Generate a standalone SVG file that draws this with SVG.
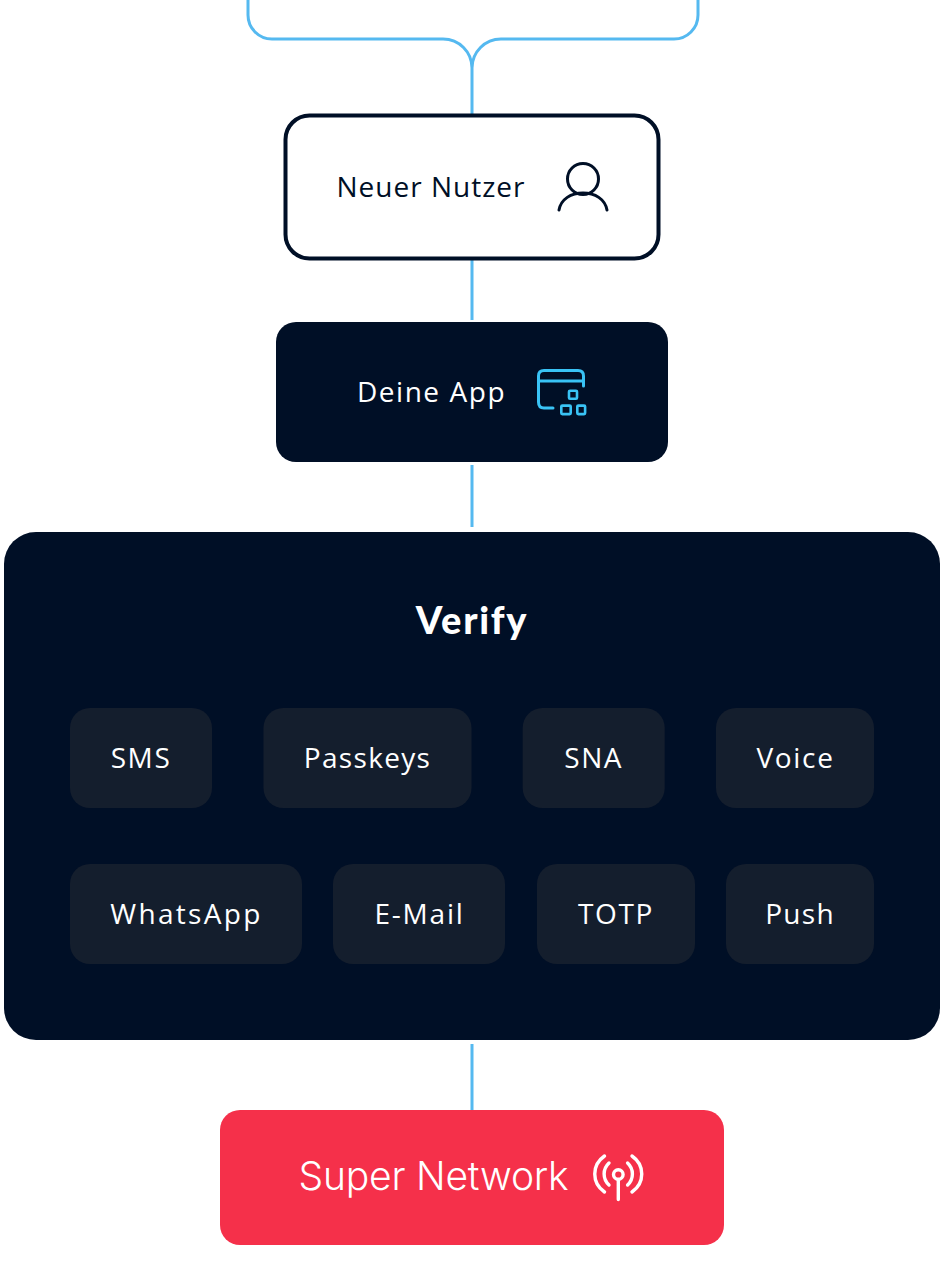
<svg xmlns="http://www.w3.org/2000/svg" width="944" height="1280" viewBox="0 0 944 1280">
<style>
text{font-family:"Open Sans","Noto Sans",sans-serif;font-size:28px;letter-spacing:1.3px;fill:#fff;text-anchor:middle}
.conn{fill:none;stroke:#55b9f0;stroke-width:3}
.chip{fill:#141e2d}
.dark{fill:#000f26}
.ic{fill:none;stroke-width:3.4;stroke-linecap:round;stroke-linejoin:round}
.sq{fill:none;stroke:#39c3f5;stroke-width:2.6}
</style>
<rect width="944" height="1280" fill="#fff"/>
<g id="connectors">
<path class="conn" d="M248,0V15A24,24 0 0 0 272,39H443A29,29 0 0 1 472,68V115M698,0V15A24,24 0 0 1 674,39H501A29,29 0 0 0 472,68"/>
<path class="conn" d="M472,260V320M472,465V527M472,1044V1110"/>
</g>
<g id="neuer-nutzer">
<rect x="285.500" y="115.500" width="373" height="143" rx="24" fill="#fff" stroke="#000f26" stroke-width="4"/>
<text x="431" y="197" style="fill:#000f26;letter-spacing:1px">Neuer Nutzer</text>
<circle cx="583" cy="179" r="15.500" class="ic" stroke="#000f26" style="stroke-width:3"/>
<path d="M559,210C561,199 571,193 583,193C595,193 605,199 607,210" class="ic" stroke="#000f26" style="stroke-width:3"/>
</g>
<g id="deine-app">
<rect x="276" y="322" width="392" height="140" rx="20" class="dark"/>
<text x="431.500" y="402" style="letter-spacing:1.550px">Deine App</text>
<path class="ic" stroke="#39c3f5" style="stroke-width:3" d="M553,408H544Q538.500,408 538.500,402V376Q538.500,370.500 544,370.500H578Q583.500,370.500 583.500,376V386M538.500,381H583.500"/>
<rect x="569" y="390.700" width="8" height="8" rx="1" class="sq"/>
<rect x="561.300" y="405.600" width="9.400" height="8.500" rx="1" class="sq"/>
<rect x="577.300" y="405.600" width="7.800" height="8.500" rx="1" class="sq"/>
</g>
<g id="verify">
<rect x="4" y="532" width="936" height="508" rx="32" class="dark"/>
<text x="472" y="634" style="font-family:'Lato','Open Sans',sans-serif;font-size:38px;font-weight:900;letter-spacing:1.700px">Verify</text>
</g>
<g id="sms"><rect x="70" y="708" width="142" height="100" rx="20" class="chip"/><text x="141" y="768" style="letter-spacing:1.600px">SMS</text></g>
<g id="passkeys"><rect x="263.500" y="708" width="208" height="100" rx="20" class="chip"/><text x="367.500" y="768">Passkeys</text></g>
<g id="sna"><rect x="522.700" y="708" width="142" height="100" rx="20" class="chip"/><text x="593.700" y="768" style="letter-spacing:1.600px">SNA</text></g>
<g id="voice"><rect x="716" y="708" width="158" height="100" rx="20" class="chip"/><text x="795.500" y="768" style="letter-spacing:1.700px">Voice</text></g>
<g id="whatsapp"><rect x="70" y="864" width="232" height="100" rx="20" class="chip"/><text x="186.500" y="924" style="letter-spacing:2.300px">WhatsApp</text></g>
<g id="e-mail"><rect x="333" y="864" width="172" height="100" rx="20" class="chip"/><text x="419.500" y="924" style="letter-spacing:1.800px">E-Mail</text></g>
<g id="totp"><rect x="537" y="864" width="158" height="100" rx="20" class="chip"/><text x="616" y="924" style="letter-spacing:1.600px">TOTP</text></g>
<g id="push"><rect x="726" y="864" width="148" height="100" rx="20" class="chip"/><text x="800" y="924">Push</text></g>
<g id="super-network">
<rect x="220" y="1110" width="504" height="135" rx="20" fill="#f5304a"/>
<text x="433.500" y="1190" style="font-family:'Inter',sans-serif;font-size:39px;font-weight:300;letter-spacing:-.2px">Super Network</text>
<g class="ic" stroke="#fff">
<circle cx="618.300" cy="1174.500" r="4.800"/>
<path d="M618.300,1180V1199.500M604.500,1156C591.500,1165 591.500,1183 604.500,1192M632,1156C645,1165 645,1183 632,1192M609,1163C602.500,1169 602.500,1179 609,1185M627.600,1163C634,1169 634,1179 627.600,1185"/>
</g>
</g>
</svg>
